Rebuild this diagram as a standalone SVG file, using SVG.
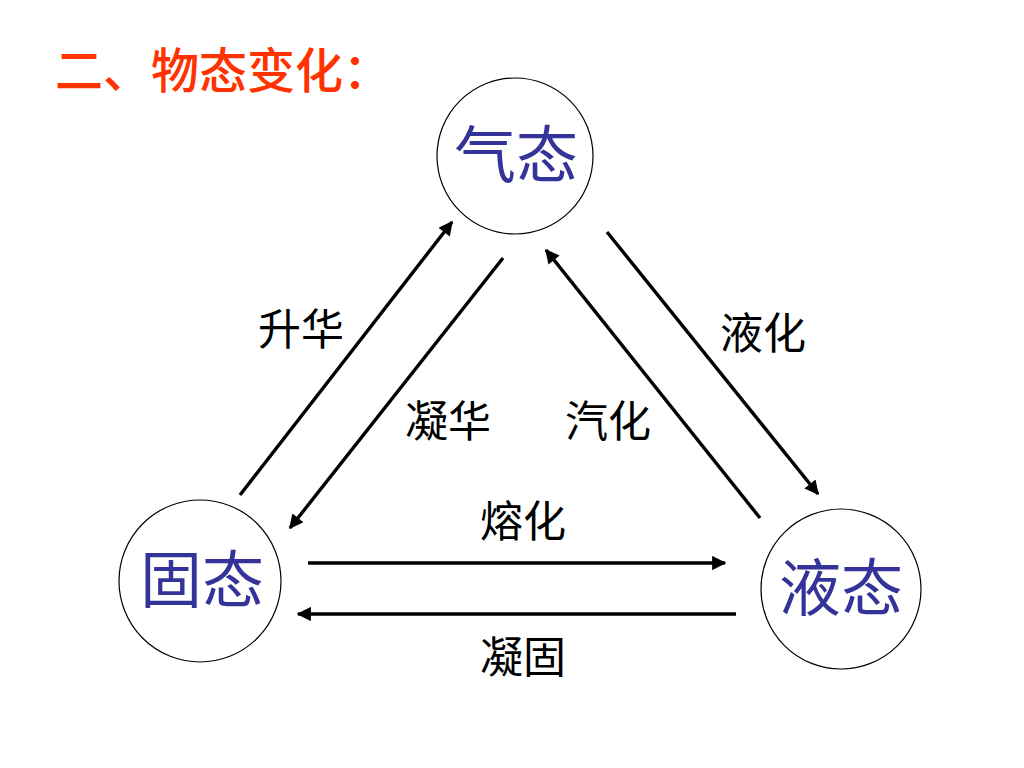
<svg xmlns="http://www.w3.org/2000/svg" width="1024" height="768" viewBox="0 0 1024 768">
<style>
.node{fill:#fff;stroke:#000;stroke-width:1.2}
.nt{font-family:"Noto Sans CJK SC",sans-serif;font-size:62px;fill:#333399;text-anchor:middle}
.lbl{font-family:"Noto Sans CJK SC",sans-serif;font-size:43px;fill:#000;text-anchor:middle}
.edge{stroke:#000;stroke-width:3.4;fill:none;marker-end:url(#ah)}
.title{font-family:"Noto Sans CJK SC",sans-serif;font-size:48px;font-weight:500;fill:#ff3300}
</style>
<defs>
<marker id="ah" viewBox="0 0 10 10" refX="9" refY="5" markerWidth="5" markerHeight="4.2" orient="auto" markerUnits="strokeWidth">
<path d="M0,0 L10,5 L0,10 z" fill="#000"/>
</marker>
</defs>
<rect width="1024" height="768" fill="#fff"/>
<text class="title" x="55" y="88">二、物态变化：</text>
<g id="gas">
<circle class="node" cx="515" cy="156" r="78"/>
<text class="nt" x="516" y="178">气态</text>
</g>
<g id="solid">
<circle class="node" cx="200" cy="581" r="81"/>
<text class="nt" x="202" y="603">固态</text>
</g>
<g id="liquid">
<circle class="node" cx="841" cy="589" r="80"/>
<text class="nt" x="841" y="611">液态</text>
</g>
<g id="connectors">
<line class="edge" x1="240" y1="495" x2="452" y2="222"/>
<line class="edge" x1="503" y1="258" x2="290" y2="528"/>
<line class="edge" x1="760" y1="518" x2="546" y2="250"/>
<line class="edge" x1="607" y1="232" x2="818" y2="494"/>
<line class="edge" x1="308" y1="563" x2="725" y2="563"/>
<line class="edge" x1="736" y1="614" x2="298" y2="614"/>
</g>
<g id="labels">
<text class="lbl" x="301" y="345">升华</text>
<text class="lbl" x="448" y="437">凝华</text>
<text class="lbl" x="608" y="437">汽化</text>
<text class="lbl" x="763" y="349">液化</text>
<text class="lbl" x="523" y="537">熔化</text>
<text class="lbl" x="523" y="673">凝固</text>
</g>
</svg>
